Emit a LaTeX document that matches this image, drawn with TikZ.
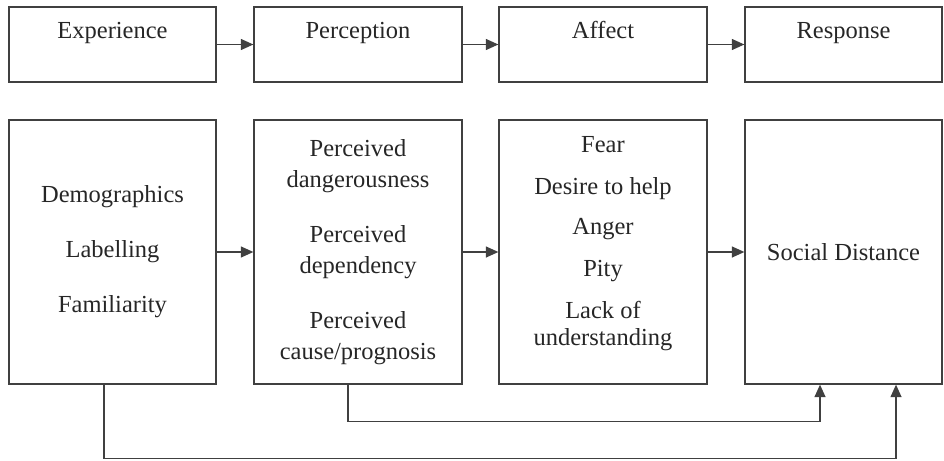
\documentclass[tikz,border=0pt]{standalone}
\usepackage{fontspec}
\setmainfont{Liberation Serif}
\usetikzlibrary{arrows.meta}
\begin{document}
\begin{tikzpicture}[x=1pt,y=-1pt,
    >={Triangle[length=12.5pt,width=11pt]},
    every node/.style={font=\fontsize{24.5}{31}\selectfont,text=black!85},
    box/.style={draw=black!75,line width=1.3pt,align=center,inner sep=0pt},
    stage/.style={box,minimum width=#1,text height=32pt,text depth=43pt},
    factor/.style={box,minimum width=#1,minimum height=264pt},
    conn/.style={draw=black!75,line width=1.3pt,->}]
    \useasboundingbox (0,0) rectangle (944,460);
    \node[stage=207pt] (exper) at (112.5,44.5) {Experience};
    \node[stage=208pt] (percep) at (358,44.5) {Perception};
    \node[stage=208pt] (affect) at (603,44.5) {Affect};
    \node[stage=197pt] (resp) at (843.5,44.5) {Response};
    \node[factor=207pt] (demo) at (112.5,252) {Demographics\\[24pt]Labelling\\[24pt]Familiarity};
    \node[factor=208pt] (percvd) at (358,252) {Perceived\\dangerousness\\[24pt]Perceived\\dependency\\[24pt]Perceived\\cause/prognosis};
    \node[factor=208pt] (emot) at (603,252) {Fear\\[11pt]Desire to help\\[9pt]Anger\\[11pt]Pity\\[11pt]Lack of\\[-4pt]understanding\\[-8pt]\mbox{}};
    \node[factor=197pt] (socdist) at (843.5,252) {Social Distance};
    \draw[conn] (exper) -- (percep);
    \draw[conn] (percep) -- (affect);
    \draw[conn] (affect) -- (resp);
    \draw[conn] (demo) -- (percvd);
    \draw[conn] (percvd) -- (emot);
    \draw[conn] (emot) -- (socdist);
    \draw[conn] ([xshift=-10pt]percvd.south) -- ++(0,37) -| ([xshift=-23.5pt]socdist.south);
    \draw[conn] ([xshift=-8.5pt]demo.south) -- ++(0,74) -| ([xshift=52.5pt]socdist.south);
\end{tikzpicture}
\end{document}
